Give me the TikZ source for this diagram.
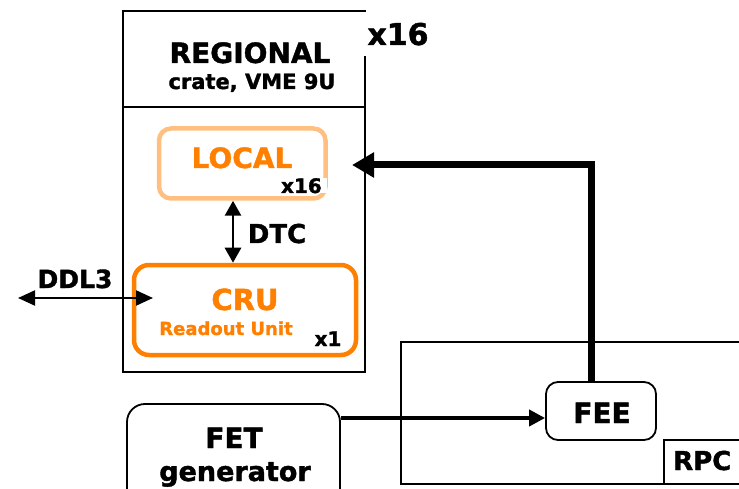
\documentclass[tikz,border=0pt]{standalone}
\usepackage{fontspec}
\setmainfont{DejaVu Sans}[BoldFeatures={FakeBold=1.4}]
\usetikzlibrary{arrows.meta}
\definecolor{cruorange}{HTML}{FF8000}
\definecolor{localorange}{HTML}{FFBF80}
\newcommand\fsz[1]{\fontsize{#1}{#1}\selectfont}
\begin{document}
\begin{tikzpicture}[x=1pt,y=-1pt,
  lbl/.style={inner sep=0pt, anchor=base},
  plainbox/.style={draw=black, line width=1.8pt, inner sep=0pt},
  rbox/.style={plainbox, rounded corners=12pt},
  obox/.style={line width=4.5pt, inner sep=0pt, rounded corners=12pt},
  sig/.style={line width=2.8pt},
]
\useasboundingbox (0,0) rectangle (739,489);
\clip (0,0) rectangle (739,489);

% regional crate
\node[plainbox, minimum width=242pt, minimum height=361pt] (reg) at (244,191.5) {};
\coordinate (divy) at (0,107);
\draw[line width=2.2pt] (reg.west |- divy) -- (reg.east |- divy);
\node[lbl, fill=white, inner xsep=3pt, minimum height=44pt, font=\bfseries\fsz{30}] (regn) at (398,45) {x16};
\node[lbl, font=\bfseries\fsz{28}] (regt) at (250,63) {REGIONAL};
\node[lbl, font=\bfseries\fsz{21}] (regs) at (252,89) {crate, VME 9U};

% local
\node[obox, draw=localorange, minimum width=166.5pt, minimum height=70pt] (local) at (242.25,163.5) {};
\node[lbl, text=cruorange, font=\bfseries\fsz{28}] (localt) at (242,168) {LOCAL};
\node[lbl, anchor=base east, fill=white, inner xsep=5pt, font=\bfseries\fsz{20}] (localn) at (327,193) {x16};

% CRU
\node[obox, draw=cruorange, rounded corners=15pt, minimum width=222pt, minimum height=90pt] (cru) at (245,310) {};
\node[lbl, text=cruorange, font=\bfseries\fsz{29}] (crut) at (245,310) {CRU};
\node[lbl, text=cruorange, font=\bfseries\fsz{18}] (crus) at (226,335) {Readout Unit};
\node[lbl, font=\bfseries\fsz{20}] (crun) at (328,346) {x1};

% DTC
\coordinate (dtcx) at (233,0);
\draw[sig, {Triangle[length=15pt,width=16pt]}-{Triangle[length=15pt,width=16pt]}] (local.south -| dtcx) -- (cru.north -| dtcx);
\node[lbl, font=\bfseries\fsz{26}] (dtc) at (277,243) {DTC};

% DDL3
\coordinate (ddlw) at (18,298);
\coordinate (ddle) at (153,298);
\draw[line width=2.2pt, {Triangle[length=17pt,width=15pt]}-{Triangle[length=17pt,width=15pt]}] (ddlw) -- (ddle);
\node[lbl, font=\bfseries\fsz{25}] (ddl) at (75,288) {DDL3};

% RPC
\node[plainbox, minimum width=360pt, minimum height=142pt] (rpc) at (581,413) {};
\node[plainbox, minimum width=96pt, minimum height=44pt] (rpcl) at (712,462) {};
\node[lbl, anchor=base west, font=\bfseries\fsz{26}] (rpct) at (673,470) {RPC};

% FEE
\node[rbox, minimum width=110pt, minimum height=58pt] (fee) at (601,411) {};
\node[lbl, font=\bfseries\fsz{28}] (feet) at (602,423) {FEE};

% FET generator
\node[rbox, rounded corners=18pt, minimum width=213pt, minimum height=110pt] (fet) at (233.5,459) {};
\node[lbl, font=\bfseries\fsz{28}] (fett) at (234,448) {FET};
\node[lbl, font=\bfseries\fsz{27}] (fetg) at (235,481) {generator};

% FET -> FEE
\coordinate (fety) at (0,418);
\draw[line width=3.8pt, -{Triangle[length=16pt,width=16pt]}] (fet.east |- fety) -- (fee.west |- fety);

% FEE -> LOCAL
\coordinate (thx) at (591,0);
\coordinate (thtip) at (352,165);
\draw[line width=7pt, -{Triangle[length=22pt,width=24pt]}] (fee.north -| thx) |- (thtip);
\end{tikzpicture}
\end{document}
